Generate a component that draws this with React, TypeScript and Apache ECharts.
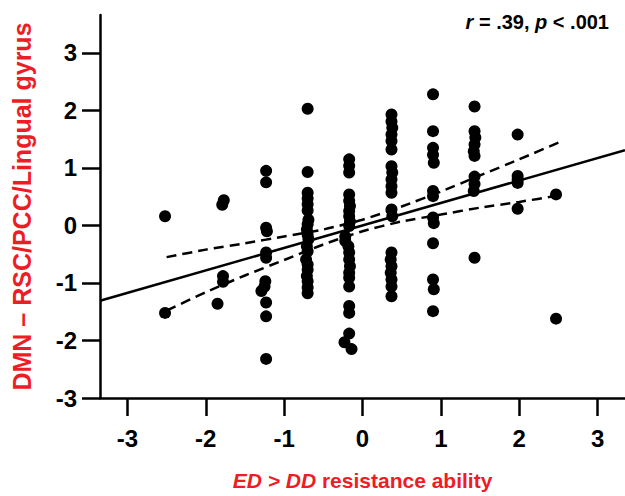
import React, { useEffect, useRef } from "react";
import * as echarts from "echarts";

// Scatter points [x, y], grouped by column
const colNeg252: number[][] = [[-2.52, 0.16], [-2.52, -1.52]];
const colNeg178: number[][] = [[-1.77, 0.44], [-1.79, 0.36], [-1.78, -0.88], [-1.78, -0.98], [-1.85, -1.36]];
const colNeg123: number[][] = [
  [-1.23, 0.95], [-1.23, 0.75], [-1.23, -0.04], [-1.22, -0.1], [-1.23, -0.47], [-1.23, -0.56],
  [-1.24, -0.97], [-1.25, -1.06], [-1.29, -1.14], [-1.23, -1.34], [-1.23, -1.58], [-1.23, -2.32],
];
const colNeg070: number[][] = [
  [-0.7, 2.03], [-0.7, 0.93], [-0.7, 0.57], [-0.7, 0.47], [-0.7, 0.37], [-0.7, 0.26], [-0.69, 0.1],
  [-0.7, 0.02], [-0.71, -0.07], [-0.7, -0.16], [-0.69, -0.24], [-0.71, -0.36], [-0.7, -0.45],
  [-0.72, -0.59], [-0.7, -0.68], [-0.7, -0.77], [-0.71, -0.88], [-0.7, -0.97], [-0.7, -1.08], [-0.7, -1.18],
];
const colNeg017: number[][] = [
  [-0.17, 1.15], [-0.17, 1.04], [-0.17, 0.92], [-0.17, 0.54], [-0.17, 0.43], [-0.16, 0.34], [-0.17, 0.25],
  [-0.17, 0.16], [-0.16, 0.07], [-0.17, -0.01], [-0.22, -0.19], [-0.22, -0.27], [-0.18, -0.36],
  [-0.17, -0.47], [-0.17, -0.59], [-0.16, -0.71], [-0.17, -0.82], [-0.17, -0.91], [-0.17, -1.06],
  [-0.17, -1.4], [-0.17, -1.52], [-0.17, -1.88], [-0.23, -2.03], [-0.14, -2.15],
];
const colPos037: number[][] = [
  [0.37, 1.93], [0.37, 1.81], [0.38, 1.7], [0.37, 1.58], [0.37, 1.47], [0.37, 1.32], [0.37, 1.03],
  [0.38, 0.92], [0.37, 0.8], [0.37, 0.68], [0.37, 0.57], [0.37, 0.28], [0.38, 0.16], [0.37, -0.47],
  [0.36, -0.59], [0.37, -0.71], [0.36, -0.82], [0.37, -0.94], [0.37, -1.06], [0.37, -1.23],
];
const colPos090: number[][] = [
  [0.9, 2.28], [0.9, 1.64], [0.9, 1.35], [0.9, 1.23], [0.91, 1.09], [0.9, 0.6], [0.9, 0.51],
  [0.9, 0.14], [0.91, 0.04], [0.9, -0.31], [0.9, -0.94], [0.91, -1.11], [0.9, -1.49],
];
const colPos143: number[][] = [
  [1.43, 2.07], [1.43, 1.64], [1.44, 1.53], [1.43, 1.41], [1.42, 1.29], [1.43, 1.21],
  [1.43, 0.85], [1.43, 0.72], [1.42, 0.6], [1.43, -0.56],
];
const colPos198: number[][] = [[1.98, 1.58], [1.98, 0.86], [1.98, 0.8], [1.98, 0.74], [1.98, 0.29]];
const colPos247: number[][] = [[2.47, 0.54], [2.47, -1.62]];

const points = [
  ...colNeg252, ...colNeg178, ...colNeg123, ...colNeg070, ...colNeg017,
  ...colPos037, ...colPos090, ...colPos143, ...colPos198, ...colPos247,
];

// Regression line and confidence bands
const fitLine: number[][] = [[-3.35, -1.31], [3.35, 1.31]];
const ciUpper: number[][] = [
  [-2.5, -0.55], [-2.0, -0.42], [-1.5, -0.31], [-1.0, -0.19], [-0.5, -0.07], [0, 0.1],
  [0.5, 0.33], [1.0, 0.59], [1.5, 0.87], [2.0, 1.15], [2.5, 1.44],
];
const ciLower: number[][] = [
  [-2.5, -1.48], [-2.0, -1.16], [-1.5, -0.87], [-1.0, -0.6], [-0.5, -0.33], [0, -0.1],
  [0.5, 0.07], [1.0, 0.19], [1.5, 0.31], [2.0, 0.41], [2.5, 0.52],
];

const tickValues = [-3, -2, -1, 0, 1, 2, 3];
const xTitle = "{i|ED > DD} resistance ability";
const yTitle = "DMN – RSC/PCC/Lingual gyrus";
const statText = "{i|r} = .39, {i|p} < .001";

const FONT = "'Liberation Sans', Arial, sans-serif";
const RED = "#ee1c24";

export default function App() {
  const ref = useRef<HTMLDivElement>(null);
  useEffect(() => {
    if (!ref.current) return;
    const chart = echarts.init(ref.current, undefined, { renderer: "svg" });
    const axisCommon = {
      type: "value" as const,
      axisLine: { show: true, onZero: false, lineStyle: { color: "#000", width: 2.5 } },
      axisTick: { show: true, length: 18, lineStyle: { color: "#000", width: 2.5 }, customValues: tickValues },
      splitLine: { show: false },
    };
    chart.setOption({
      animation: false,
      backgroundColor: "#fff",
      title: {
        text: statText,
        right: 11,
        top: 7,
        textStyle: {
          fontFamily: FONT,
          fontSize: 20,
          fontWeight: "bold",
          color: "#000",
          rich: {
            i: { fontFamily: FONT, fontSize: 20, fontWeight: "bold", fontStyle: "italic", color: "#000" },
          },
        },
      },
      grid: { left: 100, right: 0, top: 15, bottom: 98, containLabel: false },
      xAxis: {
        ...axisCommon,
        min: -3.35,
        max: 3.35,
        axisLabel: {
          customValues: tickValues,
          margin: 28,
          fontFamily: FONT,
          fontSize: 24,
          fontWeight: "bold",
          color: "#000",
        },
        name: xTitle,
        nameLocation: "middle",
        nameGap: 72,
        nameTextStyle: {
          fontFamily: FONT,
          fontSize: 21,
          fontWeight: "bold",
          color: RED,
          rich: {
            i: { fontFamily: FONT, fontSize: 21, fontWeight: "bold", fontStyle: "italic", color: RED },
          },
        },
      },
      yAxis: {
        ...axisCommon,
        min: -3,
        max: 3.66,
        axisLabel: {
          customValues: tickValues,
          margin: 23,
          fontFamily: FONT,
          fontSize: 24,
          fontWeight: "bold",
          color: "#000",
        },
        name: yTitle,
        nameLocation: "middle",
        nameRotate: 90,
        nameGap: 66,
        nameTextStyle: {
          fontFamily: FONT,
          fontSize: 25,
          fontWeight: "bold",
          color: RED,
        },
      },
      series: [
        {
          type: "scatter",
          data: points,
          symbolSize: 12,
          itemStyle: { color: "#000", opacity: 1 },
          z: 3,
        },
        {
          type: "line",
          data: fitLine,
          showSymbol: false,
          lineStyle: { color: "#000", width: 2.5 },
          z: 2,
        },
        {
          type: "line",
          data: ciUpper,
          showSymbol: false,
          smooth: 0.2,
          lineStyle: { color: "#000", width: 2.5, type: [10, 6] },
          z: 2,
        },
        {
          type: "line",
          data: ciLower,
          showSymbol: false,
          smooth: 0.2,
          lineStyle: { color: "#000", width: 2.5, type: [10, 6] },
          z: 2,
        },
      ],
    });
    return () => chart.dispose();
  }, []);
  return (
    <div
      ref={ref}
      style={{ position: "fixed", left: 0, top: 0, width: 625, height: 496 }}
    />
  );
}
